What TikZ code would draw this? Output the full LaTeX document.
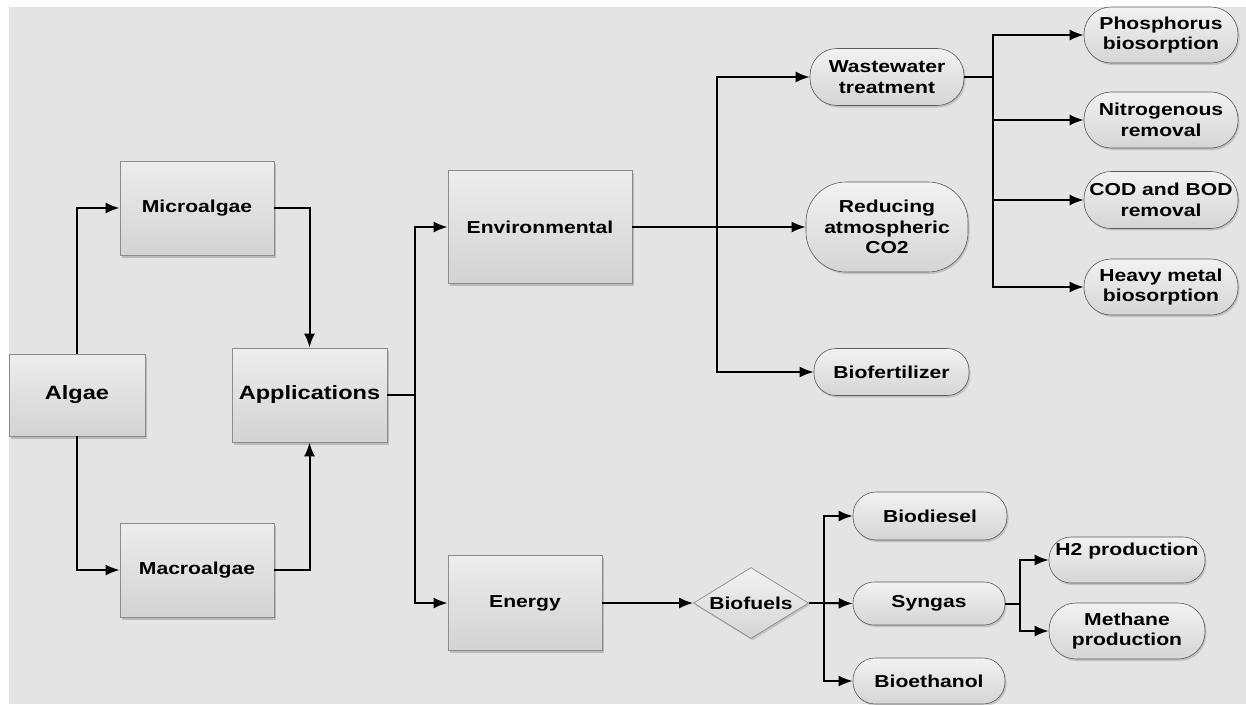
\documentclass[tikz,border=0pt]{standalone}
\usepackage{fontspec}
\setmainfont{Liberation Sans}[FakeStretch=1.22]
\usetikzlibrary{shapes.geometric,arrows.meta,shadows}
\definecolor{bgc}{HTML}{E4E4E4}
\definecolor{boxline}{HTML}{8C8C8C}
\definecolor{boxtop}{HTML}{EDEDED}
\definecolor{boxbot}{HTML}{D3D3D3}
\definecolor{pillline}{HTML}{5A5A5A}
\definecolor{pilltop}{HTML}{F2F2F2}
\definecolor{pillbot}{HTML}{D5D5D5}
\newcommand{\fsn}{\fontsize{17.3}{20.7}\selectfont\bfseries}
\newcommand{\fsb}{\fontsize{19.3}{22}\selectfont\bfseries}
\begin{document}
\begin{tikzpicture}[x=1pt,y=-1pt,
  box/.style={draw=boxline, line width=0.8pt, top color=boxtop, bottom color=boxbot,
    drop shadow={shadow xshift=2pt, shadow yshift=-2.5pt, fill=black, opacity=0.18},
    inner sep=0pt, font=\fsn, align=center},
  pill/.style={draw=pillline, line width=0.6pt, top color=pilltop, bottom color=pillbot,
    rounded corners=#1,
    drop shadow={shadow xshift=1.5pt, shadow yshift=-2pt, fill=black, opacity=0.15},
    inner sep=0pt, font=\fsn, align=center},
  pill/.default=24pt,
  dia/.style={draw=boxline, line width=0.7pt, top color=pilltop, bottom color=pillbot,
    diamond, shape aspect=1.62, inner sep=0pt, font=\fsn,
    drop shadow={shadow xshift=1.5pt, shadow yshift=-2pt, fill=black, opacity=0.15}},
  conn/.style={line width=2pt, black},
  arr/.style={conn, -{Latex[length=14pt,width=11pt]}}
]
\useasboundingbox (0,0) rectangle (1246,704);
\fill[white] (0,0) rectangle (1246,704);
\fill[bgc] (9,7) rectangle (1246,704);

% rectangles
\node[box, minimum width=136pt, minimum height=82pt, font=\fsb] (algae) at (77,395) {Algae};
\node[box, minimum width=154pt, minimum height=94pt] (micro) at (197,208) {Microalgae};
\node[box, minimum width=154pt, minimum height=94pt] (macro) at (197,570) {Macroalgae};
\node[box, minimum width=155pt, minimum height=94pt, font=\fsb] (apps) at (309.5,395) {Applications};
\node[box, minimum width=184pt, minimum height=113pt] (env) at (540,227) {Environmental};
\node[box, minimum width=154pt, minimum height=95pt] (energy) at (525,603) {Energy};

% environmental branch
\node[pill=27pt, minimum width=154pt, minimum height=57pt] (ww) at (887,77) {Wastewater\\treatment};
\node[pill=40pt, minimum width=162pt, minimum height=90pt] (co2) at (887,227) {Reducing\\atmospheric\\CO2};
\node[pill=22pt, minimum width=155pt, minimum height=47pt] (bfert) at (891.5,372) {Biofertilizer};
\node[pill=27pt, minimum width=154pt, minimum height=56pt] (phos) at (1161,35) {Phosphorus\\biosorption};
\node[pill=27pt, minimum width=154pt, minimum height=56pt] (nitro) at (1161,120) {Nitrogenous\\removal};
\node[pill=27pt, minimum width=154pt, minimum height=57pt] (cod) at (1161,200) {COD and BOD\\removal};
\node[pill=27pt, minimum width=154pt, minimum height=56pt] (heavy) at (1161,287) {Heavy metal\\biosorption};

% energy branch
\node[dia, minimum width=115pt, minimum height=71pt] (bfuel) at (751,603) {\makebox[0pt]{Biofuels}};
\node[pill=23pt, minimum width=154pt, minimum height=48pt] (bdiesel) at (930,516) {Biodiesel};
\node[pill=21pt, minimum width=152pt, minimum height=43pt] (syngas) at (929,603.5) {Syngas};
\node[pill=22pt, minimum width=152pt, minimum height=46pt] (bethanol) at (929,681) {Bioethanol};
\node[pill=22pt, minimum width=156pt, minimum height=46pt] (h2) at (1127,560) {H2 production\\ ~};
\node[pill=27pt, minimum width=156pt, minimum height=56pt] (meth) at (1127,631) {Methane\\production};

% junctions
\coordinate (j1) at (415,395);
\coordinate (j2) at (717,227);
\coordinate (j3) at (993,77);
\coordinate (j4) at (824,603);
\coordinate (j5) at (1020,603.5);

% connectors
\draw[arr] (algae.north) |- (micro.west);
\draw[arr] (algae.south) |- (macro.west);
\draw[arr] (micro.east) -| (apps.north);
\draw[arr] (macro.east) -| (apps.south);

\draw[conn] (apps.east) -- (j1);
\draw[arr] (j1) |- (env.west);
\draw[arr] (j1) |- (energy.west);

\draw[arr] (env.east) -- (co2.west);
\draw[arr] (j2) |- (ww.west);
\draw[arr] (j2) |- (bfert.west);

\draw[conn] (ww.east) -- (j3);
\draw[arr] (j3) |- (phos.west);
\draw[arr] (j3) |- (nitro.west);
\draw[arr] (j3) |- (cod.west);
\draw[arr] (j3) |- (heavy.west);

\draw[arr] (energy.east) -- (bfuel.west);
\draw[conn] (bfuel.east) -- (j4);
\draw[arr] (j4) |- (bdiesel.west);
\draw[arr] (j4) -- (syngas.west);
\draw[arr] (j4) |- (bethanol.west);

\draw[conn] (syngas.east) -- (j5);
\draw[arr] (j5) |- (h2.west);
\draw[arr] (j5) |- (meth.west);
\end{tikzpicture}
\end{document}
